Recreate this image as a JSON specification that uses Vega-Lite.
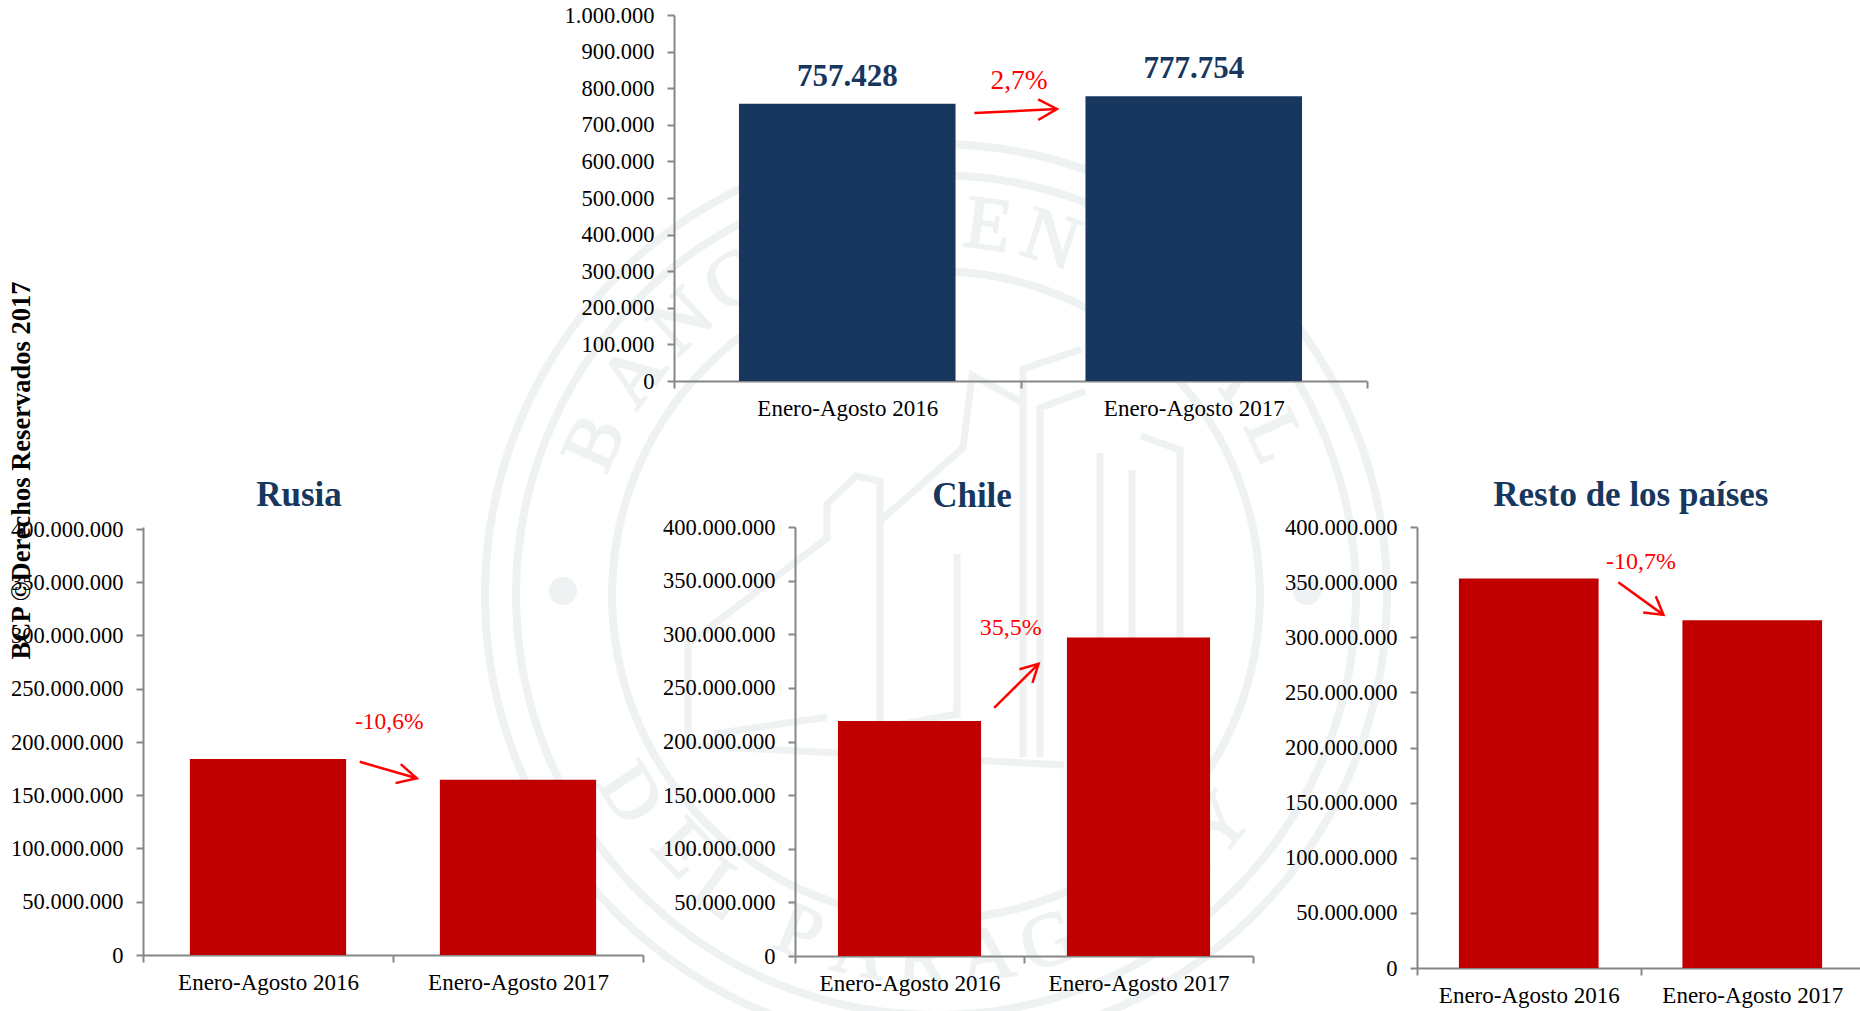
{"$schema":"https://vega.github.io/schema/vega-lite/v6.json","background":"white","padding":{"left":8,"top":4,"right":0,"bottom":0},"autosize":{"type":"pad"},"bounds":"flush","spacing":512,"config":{"view":{"stroke":null},"font":"Liberation Serif","axis":{"labelFont":"Liberation Serif","labelFontSize":22.5,"labelColor":"#000000","domainColor":"#868686","tickColor":"#868686","domainWidth":2,"tickWidth":2,"tickSize":7,"grid":false,"labelOverlap":false,"labelFlush":false,"labelLimit":400}},
"datasets":{
"anillos":[{"sx":0,"sy":0,"r":451},{"sx":0,"sy":0,"r":420},{"sx":0,"sy":0,"r":324}],
"puntos":[{"sx":-373,"sy":4,"r":14},{"sx":371,"sy":4,"r":14}],
"letras":[{"l":"B","sx":-341,"sy":152,"rot":-66},{"l":"A","sx":-302,"sy":219,"rot":-54},{"l":"N","sx":-254,"sy":273,"rot":-43},{"l":"C","sx":-203,"sy":313,"rot":-33},{"l":"O","sx":-140,"sy":346,"rot":-22},{"l":"C","sx":-7,"sy":373,"rot":-1},{"l":"E","sx":52,"sy":369,"rot":8},{"l":"N","sx":115,"sy":355,"rot":18},{"l":"T","sx":181,"sy":326,"rot":29},{"l":"R","sx":245,"sy":282,"rot":41},{"l":"A","sx":298,"sy":224,"rot":53},{"l":"L","sx":338,"sy":158,"rot":65},{"l":"D","sx":-306,"sy":-199,"rot":57},{"l":"E","sx":-254,"sy":-254,"rot":46},{"l":"L","sx":-215,"sy":-295,"rot":36},{"l":"P","sx":-137,"sy":-338,"rot":22},{"l":"A","sx":-76,"sy":-357,"rot":12},{"l":"R","sx":-13,"sy":-365,"rot":2},{"l":"A","sx":51,"sy":-361,"rot":-8},{"l":"G","sx":113,"sy":-347,"rot":-18},{"l":"U","sx":183,"sy":-316,"rot":-30},{"l":"A","sx":239,"sy":-275,"rot":-41},{"l":"Y","sx":284,"sy":-230,"rot":-51}],
"edificio":[{"p":"a","i":1,"sx":-248,"sy":-145},{"p":"a","i":2,"sx":-248,"sy":-49},{"p":"a","i":3,"sx":-189,"sy":-4},{"p":"a","i":4,"sx":-109,"sy":57},{"p":"a","i":5,"sx":-109,"sy":91},{"p":"a","i":6,"sx":-80,"sy":119},{"p":"a","i":7,"sx":-56,"sy":114},{"p":"a","i":8,"sx":-56,"sy":-139},{"p":"b","i":1,"sx":-56,"sy":74},{"p":"b","i":2,"sx":27,"sy":147},{"p":"b","i":3,"sx":36,"sy":220},{"p":"b","i":4,"sx":87,"sy":192},{"p":"c","i":1,"sx":87,"sy":-162},{"p":"c","i":2,"sx":87,"sy":226},{"p":"c","i":3,"sx":146,"sy":246},{"p":"d","i":1,"sx":104,"sy":-162},{"p":"d","i":2,"sx":104,"sy":187},{"p":"d","i":3,"sx":149,"sy":204},{"p":"e","i":1,"sx":205,"sy":159},{"p":"e","i":2,"sx":244,"sy":145},{"p":"e","i":3,"sx":244,"sy":-44},{"p":"f","i":1,"sx":-222,"sy":-139},{"p":"f","i":2,"sx":-109,"sy":-122},{"p":"g","i":1,"sx":-56,"sy":-133},{"p":"g","i":2,"sx":21,"sy":-119},{"p":"g","i":3,"sx":21,"sy":41},{"p":"h","i":1,"sx":-251,"sy":-150},{"p":"h","i":2,"sx":128,"sy":-170},{"p":"i","i":1,"sx":164,"sy":142},{"p":"i","i":2,"sx":164,"sy":-44},{"p":"j","i":1,"sx":196,"sy":125},{"p":"j","i":2,"sx":196,"sy":-44}]
},
"vconcat":[
{"hconcat":[
{"width":531,"height":366,"encoding":{"x":{"field":"sx","type":"quantitative","scale":{"domain":[-793,-262],"nice":false,"zero":false},"axis":null},"y":{"field":"sy","type":"quantitative","scale":{"domain":[214,580],"nice":false,"zero":false},"axis":null}},"layer":[
{"data":{"name":"anillos"},"mark":{"type":"point","filled":false,"color":"#EEF2F2","strokeWidth":8,"opacity":1},"encoding":{"size":{"field":"r","type":"quantitative","scale":{"type":"pow","exponent":2,"domain":[0,451],"range":[0,813604]},"legend":null}}},
{"data":{"name":"puntos"},"mark":{"type":"point","filled":true,"color":"#EEF2F2","opacity":1},"encoding":{"size":{"field":"r","type":"quantitative","scale":{"type":"pow","exponent":2,"domain":[0,451],"range":[0,813604]},"legend":null}}},
{"data":{"name":"edificio"},"mark":{"type":"line","color":"#EEF2F2","strokeWidth":7},"encoding":{"detail":{"field":"p"},"order":{"field":"i"}}},
{"data":{"name":"letras"},"mark":{"type":"text","color":"#EEF2F2","stroke":"#EEF2F2","strokeWidth":2,"fontSize":76,"font":"Liberation Serif","baseline":"middle"},"encoding":{"text":{"field":"l"},"angle":{"field":"rot","type":"quantitative","scale":null}}}
]},
{"width":693,"height":366,"data":{"values":[{"periodo":"Enero-Agosto 2016","valor":757428,"etiqueta":"757.428"},{"periodo":"Enero-Agosto 2017","valor":777754,"etiqueta":"777.754"}]},"resolve":{"scale":{"x":"independent"}},"encoding":{"y":{"field":"valor","type":"quantitative","scale":{"domain":[0,1000000]},"axis":{"title":null,"values":[0,100000,200000,300000,400000,500000,600000,700000,800000,900000,1000000],"labelExpr":"replace(format(datum.value, ','), /,/g, '.')","labelPadding":13}}},"layer":[
{"mark":{"type":"bar","width":{"band":0.625},"color":"#17375E"},"encoding":{"x":{"field":"periodo","type":"nominal","scale":{"paddingInner":0,"paddingOuter":0},"axis":{"title":null,"labelAngle":0,"tickBand":"extent","labelPadding":9,"labelFontSize":23}}}},
{"mark":{"type":"text","fontSize":31,"fontWeight":"bold","color":"#17375E","baseline":"middle","dy":-27},"encoding":{"x":{"field":"periodo","type":"nominal","scale":{"paddingInner":0,"paddingOuter":0},"axis":null},"text":{"field":"etiqueta"}}},
{"data":{"values":[{"p":"a","i":1,"u":0.867,"valor":732240},{"p":"a","i":2,"u":1.105,"valor":743170},{"p":"b","i":1,"u":1.051,"valor":769670},{"p":"b","i":2,"u":1.105,"valor":743170},{"p":"b","i":3,"u":1.051,"valor":713110}]},"mark":{"type":"line","color":"#FF0000","strokeWidth":2.5},"encoding":{"x":{"field":"u","type":"quantitative","scale":{"domain":[0,2]},"axis":null},"detail":{"field":"p"},"order":{"field":"i"}}},
{"data":{"values":[{"u":0.996,"valor":821000,"t":"2,7%"}]},"mark":{"type":"text","fontSize":27.5,"color":"#FF0000","baseline":"middle"},"encoding":{"x":{"field":"u","type":"quantitative","scale":{"domain":[0,2]},"axis":null},"text":{"field":"t"}}}
]}
],"bounds":"flush","spacing":0},
{"hconcat":[
{"width":500,"height":428,"data":{"values":[{"periodo":"Enero-Agosto 2016","valor":184000000},{"periodo":"Enero-Agosto 2017","valor":164500000}]},"resolve":{"scale":{"x":"independent"}},"encoding":{"y":{"field":"valor","type":"quantitative","scale":{"domain":[0,401877934]},"axis":{"title":"BCP ©Derechos Reservados 2017","titleFont":"Liberation Serif","titleFontSize":26.5,"titleFontWeight":"bold","titleColor":"#000000","titleAngle":-90,"titleAlign":"center","titleBaseline":"middle","titleX":-122,"titleY":-57,"values":[0,50000000,100000000,150000000,200000000,250000000,300000000,350000000,400000000],"labelExpr":"replace(format(datum.value, ','), /,/g, '.')","labelPadding":13}}},"layer":[
{"mark":{"type":"bar","width":{"band":0.625},"color":"#C00000"},"encoding":{"x":{"field":"periodo","type":"nominal","scale":{"paddingInner":0,"paddingOuter":0},"axis":{"title":null,"labelAngle":0,"tickBand":"extent","labelPadding":9,"labelFontSize":23}}}},
{"data":{"values":[{"p":"a","i":1,"u":0.867,"valor":181400000},{"p":"a","i":2,"u":1.095,"valor":165900000},{"p":"b","i":1,"u":1.031,"valor":179200000},{"p":"b","i":2,"u":1.095,"valor":165900000},{"p":"b","i":3,"u":1.01,"valor":161400000}]},"mark":{"type":"line","color":"#FF0000","strokeWidth":2.5},"encoding":{"x":{"field":"u","type":"quantitative","scale":{"domain":[0,2]},"axis":null},"detail":{"field":"p"},"order":{"field":"i"}}},
{"data":{"values":[{"u":0.985,"valor":219100000,"t":"-10,6%"}]},"mark":{"type":"text","fontSize":23.5,"color":"#FF0000","baseline":"middle"},"encoding":{"x":{"field":"u","type":"quantitative","scale":{"domain":[0,2]},"axis":null},"text":{"field":"t"}}},
{"data":{"values":[{"u":0.624,"valor":431900000,"t":"Rusia"}]},"mark":{"type":"text","fontSize":35,"fontWeight":"bold","color":"#17375E","baseline":"middle"},"encoding":{"x":{"field":"u","type":"quantitative","scale":{"domain":[0,2]},"axis":null},"text":{"field":"t"}}}
]},
{"width":152,"height":1,"data":{"values":[{}]},"mark":{"type":"text","text":""},"encoding":{}},
{"width":458,"height":429,"data":{"values":[{"periodo":"Enero-Agosto 2016","valor":219000000},{"periodo":"Enero-Agosto 2017","valor":296900000}]},"resolve":{"scale":{"x":"independent"}},"encoding":{"y":{"field":"valor","type":"quantitative","scale":{"domain":[0,400000000]},"axis":{"title":null,"values":[0,50000000,100000000,150000000,200000000,250000000,300000000,350000000,400000000],"labelExpr":"replace(format(datum.value, ','), /,/g, '.')","labelPadding":13}}},"layer":[
{"mark":{"type":"bar","width":{"band":0.625},"color":"#C00000"},"encoding":{"x":{"field":"periodo","type":"nominal","scale":{"paddingInner":0,"paddingOuter":0},"axis":{"title":null,"labelAngle":0,"tickBand":"extent","labelPadding":9,"labelFontSize":23}}}},
{"data":{"values":[{"p":"a","i":1,"u":0.8696,"valor":231400000},{"p":"a","i":2,"u":1.0636,"valor":272400000},{"p":"b","i":1,"u":0.9803,"valor":267400000},{"p":"b","i":2,"u":1.0636,"valor":272400000},{"p":"b","i":3,"u":1.0369,"valor":254700000}]},"mark":{"type":"line","color":"#FF0000","strokeWidth":2.5},"encoding":{"x":{"field":"u","type":"quantitative","scale":{"domain":[0,2]},"axis":null},"detail":{"field":"p"},"order":{"field":"i"}}},
{"data":{"values":[{"u":0.9416,"valor":306000000,"t":"35,5%"}]},"mark":{"type":"text","fontSize":24,"color":"#FF0000","baseline":"middle"},"encoding":{"x":{"field":"u","type":"quantitative","scale":{"domain":[0,2]},"axis":null},"text":{"field":"t"}}},
{"data":{"values":[{"u":0.773,"valor":428900000,"t":"Chile"}]},"mark":{"type":"text","fontSize":35,"fontWeight":"bold","color":"#17375E","baseline":"middle"},"encoding":{"x":{"field":"u","type":"quantitative","scale":{"domain":[0,2]},"axis":null},"text":{"field":"t"}}}
]},
{"width":164,"height":1,"data":{"values":[{}]},"mark":{"type":"text","text":""},"encoding":{}},
{"width":447,"height":441,"data":{"values":[{"periodo":"Enero-Agosto 2016","valor":353200000},{"periodo":"Enero-Agosto 2017","valor":315500000}]},"resolve":{"scale":{"x":"independent"}},"encoding":{"y":{"field":"valor","type":"quantitative","scale":{"domain":[0,400000000]},"axis":{"title":null,"values":[0,50000000,100000000,150000000,200000000,250000000,300000000,350000000,400000000],"labelExpr":"replace(format(datum.value, ','), /,/g, '.')","labelPadding":13}}},"layer":[
{"mark":{"type":"bar","width":{"band":0.625},"color":"#C00000"},"encoding":{"x":{"field":"periodo","type":"nominal","scale":{"paddingInner":0,"paddingOuter":0},"axis":{"title":null,"labelAngle":0,"tickBand":"extent","labelPadding":9,"labelFontSize":23}}}},
{"data":{"values":[{"p":"a","i":1,"u":0.9007,"valor":349900000},{"p":"a","i":2,"u":1.1025,"valor":320300000},{"p":"b","i":1,"u":1.0685,"valor":337200000},{"p":"b","i":2,"u":1.1025,"valor":320300000},{"p":"b","i":3,"u":1.0121,"valor":322500000}]},"mark":{"type":"line","color":"#FF0000","strokeWidth":2.5},"encoding":{"x":{"field":"u","type":"quantitative","scale":{"domain":[0,2]},"axis":null},"detail":{"field":"p"},"order":{"field":"i"}}},
{"data":{"values":[{"u":1.0027,"valor":368100000,"t":"-10,7%"}]},"mark":{"type":"text","fontSize":24,"color":"#FF0000","baseline":"middle"},"encoding":{"x":{"field":"u","type":"quantitative","scale":{"domain":[0,2]},"axis":null},"text":{"field":"t"}}},
{"data":{"values":[{"u":0.957,"valor":429000000,"t":"Resto de los países"}]},"mark":{"type":"text","fontSize":35,"fontWeight":"bold","color":"#17375E","baseline":"middle"},"encoding":{"x":{"field":"u","type":"quantitative","scale":{"domain":[0,2]},"axis":null},"text":{"field":"t"}}}
]}
],"bounds":"flush","spacing":0,"align":"none"}
]}
